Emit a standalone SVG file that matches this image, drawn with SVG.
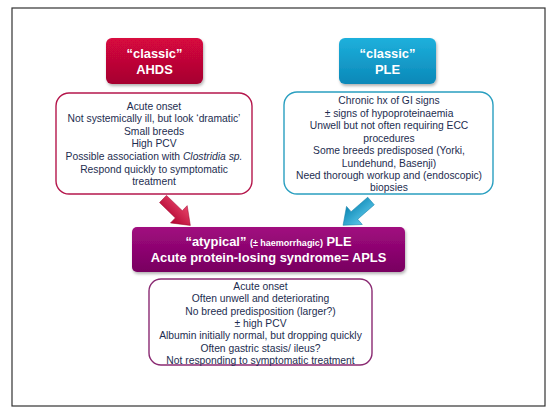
<svg xmlns="http://www.w3.org/2000/svg" width="550" height="414" viewBox="0 0 550 414">
<defs>
<linearGradient id="gRed" x1="0" y1="0" x2="0" y2="1"><stop offset="0" stop-color="#d8073f"/><stop offset="1" stop-color="#a5052f"/></linearGradient>
<linearGradient id="gBlue" x1="0" y1="0" x2="0" y2="1"><stop offset="0" stop-color="#1eb0dc"/><stop offset="1" stop-color="#0b88b8"/></linearGradient>
<linearGradient id="gPurp" x1="0" y1="0" x2="0" y2="1"><stop offset="0" stop-color="#a10a7f"/><stop offset="1" stop-color="#780060"/></linearGradient>
<linearGradient id="gRedA" x1="0" y1="0" x2="0" y2="1"><stop offset="0" stop-color="#e8456a"/><stop offset="1" stop-color="#b00230"/></linearGradient>
<linearGradient id="gBlueA" x1="0" y1="0" x2="0" y2="1"><stop offset="0" stop-color="#5cc8ea"/><stop offset="1" stop-color="#0a86b4"/></linearGradient>
<filter id="sh" x="-10%" y="-10%" width="130%" height="140%"><feDropShadow dx="1" dy="2" stdDeviation="1.5" flood-color="#000" flood-opacity="0.3"/></filter>
</defs>
<style>
.t{font-family:"Liberation Sans",Arial,sans-serif;font-size:10.3px;fill:#1d2d50;text-anchor:middle}
.h{font-family:"Liberation Sans",Arial,sans-serif;font-size:12.9px;font-weight:bold;fill:#fff;text-anchor:middle}
.hs{font-size:9px}
.wb{fill:#fff;stroke-width:1.4}
</style>
<rect x="12" y="8" width="533" height="398" fill="#fff" stroke="#333" stroke-width="1.2"/>
<g id="ahds">
<rect x="106" y="38" width="97" height="46" rx="6" fill="url(#gRed)" filter="url(#sh)"/>
<text class="h" x="154.5" y="58">“classic”</text>
<text class="h" x="154.5" y="74">AHDS</text>
</g>
<g id="ple">
<rect x="339" y="38" width="97" height="46" rx="6" fill="url(#gBlue)" filter="url(#sh)"/>
<text class="h" x="387.5" y="58">“classic”</text>
<text class="h" x="387.5" y="74">PLE</text>
</g>
<g id="ahds-features">
<rect class="wb" x="56" y="93" width="196" height="101" rx="13" stroke="#b5174c"/>
<text class="t" x="154" y="109.5">Acute onset</text>
<text class="t" x="154" y="122">Not systemically ill, but look ‘dramatic’</text>
<text class="t" x="154" y="135">Small breeds</text>
<text class="t" x="154" y="147">High PCV</text>
<text class="t" x="154" y="160">Possible association with <tspan font-style="italic">Clostridia sp.</tspan></text>
<text class="t" x="154" y="172.5">Respond quickly to symptomatic</text>
<text class="t" x="154" y="185">treatment</text>
</g>
<g id="ple-features">
<rect class="wb" x="284" y="92" width="209" height="102" rx="13" stroke="#2a9fc0"/>
<text class="t" x="389" y="104">Chronic hx of GI signs</text>
<text class="t" x="389" y="116.5">± signs of hypoproteinaemia</text>
<text class="t" x="389" y="129">Unwell but not often requiring ECC</text>
<text class="t" x="389" y="141.5">procedures</text>
<text class="t" x="389" y="154">Some breeds predisposed (Yorki,</text>
<text class="t" x="389" y="166.5">Lundehund, Basenji)</text>
<text class="t" x="389" y="179">Need thorough workup and (endoscopic)</text>
<text class="t" x="389" y="191">biopsies</text>
</g>
<g id="connectors">
<g transform="translate(163,199) rotate(44)">
<polygon points="0,-5 22,-5 22,-12 38,0 22,12 22,5 0,5" fill="url(#gRedA)" stroke="#a0002a" stroke-width="0.5"/>
</g>
<g transform="translate(371,201) rotate(139)">
<polygon points="0,-5 22,-5 22,-12 37,0 22,12 22,5 0,5" fill="url(#gBlueA)" stroke="#0a7aa5" stroke-width="0.5"/>
</g>
</g>
<g id="apls">
<rect x="132" y="227" width="273" height="45" rx="5" fill="url(#gPurp)" filter="url(#sh)"/>
<text class="h" x="268.5" y="246">“atypical” <tspan class="hs">(± haemorrhagic)</tspan> PLE</text>
<text class="h" x="268.5" y="262">Acute protein-losing syndrome= APLS</text>
</g>
<g id="apls-features">
<rect class="wb" x="149" y="279" width="223" height="86" rx="12" stroke="#8a2a72"/>
<text class="t" x="260.5" y="289.5">Acute onset</text>
<text class="t" x="260.5" y="302">Often unwell and deteriorating</text>
<text class="t" x="260.5" y="314.5">No breed predisposition (larger?)</text>
<text class="t" x="260.5" y="327">± high PCV</text>
<text class="t" x="260.5" y="339">Albumin initially normal, but dropping quickly</text>
<text class="t" x="260.5" y="351.5">Often gastric stasis/ ileus?</text>
<text class="t" x="260.5" y="364">Not responding to symptomatic treatment</text>
</g>
</svg>
